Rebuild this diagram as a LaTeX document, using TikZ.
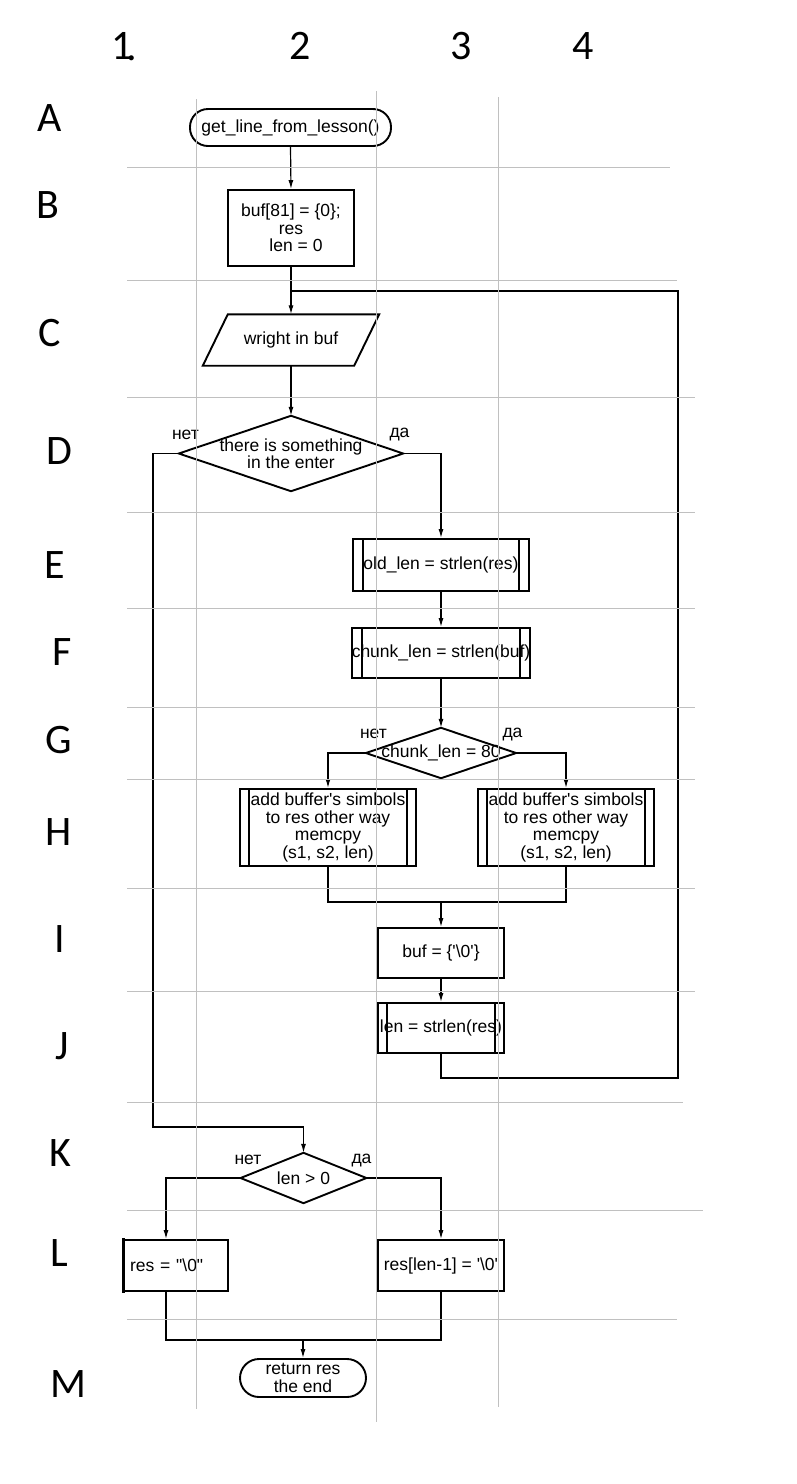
\documentclass[tikz,border=0pt]{standalone}
\usepackage{fontspec}
\setmainfont{Liberation Sans}[Ligatures=TeXOff]
\newfontfamily\labfont{Carlito}
\usetikzlibrary{arrows.meta}
\definecolor{gridc}{RGB}{192,192,192}
\newcommand\predefbars[2]{%
  \draw[line width=1.8pt] ([xshift=#2]#1.north west) -- ([xshift=#2]#1.south west)
        ([xshift=-#2]#1.north east) -- ([xshift=-#2]#1.south east);}
\begin{document}
\begin{tikzpicture}[x=1pt,y=-1pt,
  txt/.style={inner sep=0pt, align=center, font=\fontsize{17.5}{17.5}\selectfont},
  box/.style={txt, draw, line width=1.9pt, rectangle},
  term/.style={box, rounded corners=#1},
  outl/.style={line width=1.9pt},
  con/.style={line width=1.2pt},
  arr/.style={con, -{Latex[length=9pt,width=5pt]}},
  gridl/.style={line width=1pt, draw=gridc},
  lab/.style={font=\labfont\fontsize{42}{42}\selectfont, inner sep=0pt, text height=27pt, text depth=0pt},
  yn/.style={inner sep=0pt, font=\fontsize{17.5}{17.5}\selectfont}
]
\useasboundingbox (0,0) rectangle (796,1484);

% column labels
\node[lab] (c1) at (122,45.5) {1\rlap{\kern-6.5pt\raisebox{-1.5pt}{.}}};
\node[lab] (c2) at (300,45.5) {2};
\node[lab] (c3) at (461,45.5) {3};
\node[lab] (c4) at (583,45.5) {4};

% row labels
\node[lab] (rA) at (49.5,117.5) {A};
\node[lab] (rB) at (48,204.5) {B};
\node[lab] (rC) at (50,332.5) {C};
\node[lab] (rD) at (59,450.5) {D};
\node[lab] (rE) at (55,564.5) {E};
\node[lab] (rF) at (62.5,651.5) {F};
\node[lab] (rG) at (58.5,740) {G};
\node[lab] (rH) at (58.5,831.5) {H};
\node[lab] (rI) at (60,939) {I};
\node[lab] (rJ) at (62.5,1045.5) {J};
\node[lab] (rK) at (60,1152.5) {K};
\node[lab] (rL) at (59.5,1252.5) {L};
\node[lab] (rM) at (68,1383.5) {M};

% blocks
\node[term=18pt, minimum width=201pt, minimum height=37pt] (A) at (290.5,127.5) {get\_line\_from\_lesson()};
\node[box, minimum width=126pt, minimum height=76pt] (B) at (291,228) {buf[81] = \{0\};\\res\\\hspace*{10pt}len = 0};
\node[txt, minimum width=176pt, minimum height=51pt] (C) at (291,340) {wright in buf};
\draw[outl] ([xshift=25pt]C.north west) -- (C.north east) -- ([xshift=-25pt]C.south east) -- (C.south west) -- cycle;
\node[txt, minimum width=224pt, minimum height=75pt] (D) at (291,453.5) {there is something\\in the enter};
\draw[outl] (D.north) -- (D.east) -- (D.south) -- (D.west) -- cycle;
\node[box, minimum width=176pt, minimum height=52pt] (E) at (441,565) {old\_len = strlen(res)};
\predefbars{E}{11pt}
\node[box, minimum width=176pt, minimum height=50pt] (F) at (441,653) {chunk\_len = strlen(buf)};
\predefbars{F}{11pt}
\node[txt, minimum width=150pt, minimum height=50pt] (G) at (441,753) {chunk\_len = 80};
\draw[outl] (G.north) -- (G.east) -- (G.south) -- (G.west) -- cycle;
\node[box, minimum width=176pt, minimum height=77pt] (H1) at (328,827.5) {add buffer's simbols\\to res other way\\memcpy\\(s1, s2, len)};
\predefbars{H1}{10pt}
\node[box, minimum width=176pt, minimum height=77pt] (H2) at (566,827.5) {add buffer's simbols\\to res other way\\memcpy\\(s1, s2, len)};
\predefbars{H2}{10pt}
\node[box, minimum width=126pt, minimum height=50pt] (I) at (441,953) {buf = \{'\textbackslash 0'\}};
\node[box, minimum width=126pt, minimum height=50pt] (J) at (441,1028) {len = strlen(res)};
\predefbars{J}{10pt}
\node[txt, minimum width=125.5pt, minimum height=50pt] (K) at (303.5,1178) {len > 0};
\draw[outl] (K.north) -- (K.east) -- (K.south) -- (K.west) -- cycle;
\node[box, minimum width=104pt, minimum height=51pt, text width=92pt, align=left, inner xsep=6pt] (L1) at (176,1265.5) {res = "\textbackslash 0"};
\draw[line width=2.8pt] (123.5,1238) -- (123.5,1293);
\node[box, minimum width=126pt, minimum height=51pt] (L2) at (441,1265.5) {res[len-1] = '\textbackslash 0'};
\node[term=19pt, minimum width=126pt, minimum height=38pt] (M) at (303,1378) {return res\\the end};

% yes / no labels
\node[yn] (nD) at (185.5,435) {нет};
\node[yn] (yD) at (399.5,435) {да};
\node[yn] (nG) at (373.5,734) {нет};
\node[yn] (yG) at (512.5,735) {да};
\node[yn] (nK) at (248,1160) {нет};
\node[yn] (yK) at (361.5,1161) {да};

% helper coordinates
\coordinate (dl) at (153,1127);
\coordinate (lpA) at (678,1078);
\coordinate (lpB) at (678,291);
\coordinate (m1) at (441,902);
\coordinate (m2) at (303,1340);

% connectors
\draw[arr] (A.south) -- (B.north);
\draw[arr] (B.south) -- (B.south |- C.north);
\draw[con] (J.south) |- (lpA) -- (lpB) -- (lpB -| B.south);
\draw[arr] (C.south -| B.south) -- (D.north);
\draw[arr] (D.west) -| (dl) -| (K.north);
\draw[arr] (D.east) -| (E.north);
\draw[arr] (E.south) -- (F.north);
\draw[arr] (F.south) -- (G.north);
\draw[arr] (G.west) -| (H1.north);
\draw[arr] (G.east) -| (H2.north);
\draw[con] (H1.south) |- (m1);
\draw[con] (H2.south) |- (m1);
\draw[arr] (m1) -- (I.north);
\draw[arr] (I.south) -- (J.north);
\draw[arr] (K.west) -| ([xshift=-10pt]L1.north);
\draw[arr] (K.east) -| (L2.north);
\draw[con] ([xshift=-10pt]L1.south) |- (m2);
\draw[con] (L2.south) |- (m2);
\draw[arr] (m2) -- (M.north);

% grid
\draw[gridl] (127,167) -- (670,167);
\draw[gridl] (127,280) -- (677,280);
\draw[gridl] (127,397) -- (695,397);
\draw[gridl] (127,512) -- (695,512);
\draw[gridl] (127,608) -- (695,608);
\draw[gridl] (127,707) -- (695,707);
\draw[gridl] (127,779) -- (695,779);
\draw[gridl] (127,888) -- (695,888);
\draw[gridl] (127,991) -- (695,991);
\draw[gridl] (127,1102) -- (683,1102);
\draw[gridl] (127,1210) -- (703,1210);
\draw[gridl] (127,1319) -- (677,1319);
\draw[gridl] (196,99) -- (196,1409);
\draw[gridl] (376,91) -- (376,1422);
\draw[gridl] (498,97) -- (498,1407);
\end{tikzpicture}
\end{document}
